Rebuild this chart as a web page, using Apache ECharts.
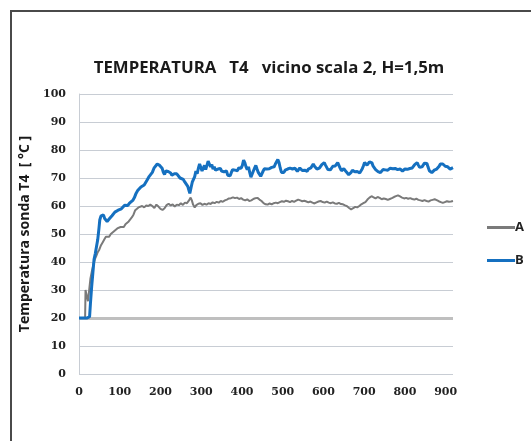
<!DOCTYPE html>
<html>
<head>
<meta charset="utf-8">
<script src="https://cdn.jsdelivr.net/npm/echarts@6/dist/echarts.min.js"></script>
<style>
  html, body { margin: 0; padding: 0; background: #ffffff; }
  #chart { width: 531px; height: 441px; }
</style>
</head>
<body>
<div id="chart"></div>
<script>
// Probe T4 temperature readings, [time, °C]
const seriesA = [
  [0,20],[10,20],[15,20],[16,30],[19,28],[22,26],[25,30],[28,34],[32,37],[36,39.5],[39,41],[42,42],[46,43.5],[50,44.5],
  [54,46],[58,47],[62,48],[66,49],[70,49.5],[74,49],[78,50],[82,50.5],[86,51],[90,51],[94,52],[98,51.5],[102,52.5],
  [106,53],[110,52.5],[114,53.5],[118,53.5],[122,54.5],[126,55],[130,56],[134,57],[138,58.5],[142,59],[146,59.5],
  [150,59.2],[155,60],[160,59.5],[165,60.2],[170,60],[175,60.5],[180,60],[185,59.3],[190,60.5],[195,59.8],[200,59],
  [205,58.6],[210,59.2],[215,60.3],[220,60.8],[225,60.2],[230,60.6],[235,59.8],[240,60.5],[245,60.3],[250,61],
  [255,60.4],[260,61.2],[265,61],[270,62],[274,63],[277,62],[280,60.5],[284,59.5],[288,60.3],[293,60.8],[298,61],
  [303,60.4],[308,60.8],[313,60.5],[318,61],[323,60.7],[328,61.3],[333,61],[338,61.5],[343,61.2],[348,61.8],
  [353,61.5],[358,62],[363,62.3],[368,62.7],[373,62.8],[378,63.1],[383,62.8],[388,63],[393,62.5],[398,62.8],
  [403,62.3],[408,62],[413,62.4],[418,61.8],[423,62],[428,62.5],[433,62.8],[438,62.9],[443,62.3],[448,61.8],
  [453,61],[458,60.6],[463,60.5],[468,60.9],[473,60.6],[478,61],[483,61.2],[488,61],[493,61.4],[498,61.7],
  [503,61.5],[508,61.9],[513,61.7],[518,61.4],[523,61.8],[528,61.5],[533,61.9],[538,62.3],[543,62],[548,61.7],
  [553,61.9],[558,61.6],[563,61.3],[568,61.6],[573,61.2],[578,60.9],[583,61.3],[588,61.6],[593,61.8],[598,61.4],
  [603,61.2],[608,61.6],[613,61.2],[618,61],[623,61.3],[628,60.9],[633,60.8],[638,61.1],[643,60.7],[648,60.6],
  [653,60.2],[658,59.9],[663,59.3],[668,58.8],[673,59.2],[678,59.7],[683,59.5],[688,60],[693,60.6],[698,61],
  [703,61.4],[708,62.3],[713,63],[718,63.5],[723,63.1],[728,62.7],[733,63.2],[738,62.9],[743,62.4],[748,62.7],
  [753,62.5],[758,62.2],[763,62.5],[768,62.8],[773,63.2],[778,63.5],[783,63.8],[788,63.4],[793,63],[798,62.7],
  [803,62.9],[808,62.6],[813,62.8],[818,62.5],[823,62.3],[828,62.6],[833,62.2],[838,62],[843,61.8],[848,62.1],
  [853,61.8],[858,61.6],[863,62],[868,62.2],[873,62.4],[878,62.1],[883,61.7],[888,61.4],[893,61.1],[898,61.4],
  [903,61.7],[908,61.5],[913,61.6],[918,61.8]
];

const seriesB = [
  [0,20],[10,20],[20,20],[26,20.5],[28,25],[31,31],[34,36],[37,41],[40,43],[43,45.5],[46,48],[49,52],[51,55],
  [54,56.5],[57,57],[60,56.8],[63,55.5],[66,55],[69,54.5],[72,54.6],[75,55.5],[78,56],[81,56.5],[84,57],[88,57.8],
  [92,58],[96,58.5],[100,59.2],[104,59],[108,59.6],[112,60.3],[116,60],[120,60.2],[124,61],[128,61.5],[132,62],
  [136,63],[140,64.5],[144,65.5],[148,66],[152,66.8],[156,67.3],[160,67.5],[164,68.5],[168,69.5],[172,70.5],
  [176,71],[180,72],[184,73.5],[188,74],[192,75],[195,75.5],[198,74.5],[201,74.8],[204,73.5],[207,72],[210,71.2],
  [213,72.5],[216,71.8],[219,72.3],[222,73],[225,71.8],[228,71],[231,70.5],[234,71.5],[237,70.8],[240,71.5],
  [244,71],[248,70],[252,70.5],[256,69.5],[260,68.5],[264,68],[267,67],[270,65.5],[272,64.5],[275,66.5],
  [278,68.5],[281,69.5],[284,70.5],[287,72.5],[290,71.5],[293,73.5],[296,75],[299,73.8],[302,72.5],[305,72.8],
  [308,74.5],[311,73],[314,74.5],[317,76],[320,75],[323,74],[326,74.8],[329,73.2],[332,74],[335,72.8],[338,73.5],
  [341,73.2],[344,73.9],[347,73.4],[350,72.5],[353,73],[356,72.2],[359,71.8],[362,72.5],[365,71],[368,70.6],
  [371,70.8],[374,72],[377,73],[380,73.4],[383,72.8],[386,73.2],[389,72.6],[392,73.6],[395,74],[398,73.5],
  [401,74.5],[404,76.4],[407,75.5],[410,74],[413,73],[416,74],[419,72],[422,70.3],[425,71],[428,72.5],[431,73.5],
  [434,74.5],[437,73.2],[440,72],[443,71.5],[446,70.6],[449,71.2],[452,72.5],[455,73.3],[458,72.8],[461,73.2],
  [464,72.5],[467,73.3],[470,74],[473,73.8],[476,74.5],[479,74],[482,75],[485,75.8],[488,76.6],[491,75.5],
  [494,73.5],[497,72],[500,71.3],[503,72],[506,72.8],[509,72.5],[512,73.2],[515,73],[518,73.5],[521,72.8],
  [524,73.2],[527,72.6],[530,73.5],[533,72.9],[536,72.4],[539,73],[542,73.6],[545,73.1],[548,72.7],[551,73.3],
  [554,72.8],[557,73],[560,72.4],[563,73.2],[566,72.8],[569,73.6],[572,74.2],[575,75],[578,74.2],[581,73.6],
  [584,73.2],[587,72.8],[590,73.5],[593,74],[596,74.8],[599,75.2],[602,75.5],[605,74.6],[608,73.8],[611,73],
  [614,72.6],[617,72.9],[620,73.5],[623,74.2],[626,74.8],[629,74.3],[632,75],[635,75.5],[638,74.8],[641,73.5],
  [644,72.6],[647,72.8],[650,73.3],[653,73],[656,72.2],[659,71.6],[662,71.2],[665,71.3],[668,72],[671,72.8],
  [674,72.5],[677,72.2],[680,71.8],[683,72.3],[686,72],[689,71.8],[692,72.4],[695,73.2],[698,74.3],[701,75.5],
  [704,75.1],[707,74.6],[710,75.2],[713,75.8],[716,76],[719,75.4],[722,74.2],[725,73.5],[728,73],[731,72.6],
  [734,72.3],[737,72],[740,71.9],[743,72.4],[746,73],[749,72.6],[752,72.9],[755,73.2],[758,72.8],[761,73.1],
  [764,73.5],[767,73],[770,73.3],[773,73.8],[776,73.4],[779,73.6],[782,73],[785,72.8],[788,73.2],[791,72.7],
  [794,72.5],[797,72.8],[800,73.2],[803,72.9],[806,73.1],[809,73],[812,73.4],[815,73],[818,73.6],[821,74.2],
  [824,74.8],[827,75],[830,75.5],[833,74.6],[836,73.8],[839,73.6],[842,74],[845,74.6],[848,75.3],[851,75.8],
  [854,75.2],[857,73.8],[860,72.6],[863,72],[866,71.9],[869,72.4],[872,72.8],[875,73],[878,73.2],[881,73.6],
  [884,74.2],[887,75],[890,75.5],[893,75],[896,74.4],[899,74.2],[902,74.5],[905,74],[908,73.5],[911,73.2],
  [914,73.6],[918,73.7]
];

const seriesNames = ['A', 'B'];
const referenceLevel = 20;   // ambient starting temperature

const chart = echarts.init(document.getElementById('chart'), null, { renderer: 'canvas' });

const tickFont = {
  fontFamily: 'DejaVu Serif',
  fontWeight: 'bold',
  fontSize: 11,
  color: '#222'
};

chart.setOption({
  animation: false,
  backgroundColor: '#ffffff',
  title: {
    text: 'TEMPERATURA   T4   vicino scala 2, H=1,5m',
    left: 264,
    top: 55,
    textAlign: 'center',
    textStyle: {
      fontFamily: 'Open Sans',
      fontWeight: 'bold',
      fontSize: 16.8,
      color: '#1a1a1a'
    }
  },
  graphic: [{
    type: 'rect',
    shape: { x: 11, y: 11, width: 560, height: 470 },
    style: { fill: 'none', stroke: '#4a4a4a', lineWidth: 2 },
    silent: true
  }],
  legend: {
    orient: 'vertical',
    left: 482,
    top: 216,
    icon: 'rect',
    itemWidth: 28,
    itemHeight: 3,
    itemGap: 20,
    data: seriesNames,
    textStyle: {
      fontFamily: 'Open Sans',
      fontWeight: 'bold',
      fontSize: 13,
      color: '#222',
      padding: [0, 0, 0, -5]
    }
  },
  grid: {
    left: 79,
    right: 78,
    top: 94,
    height: 280,
    containLabel: false
  },
  xAxis: {
    type: 'value',
    min: 0,
    max: 918,
    interval: 100,
    axisLine: { show: false },
    axisTick: { show: false },
    splitLine: { show: false },
    axisLabel: Object.assign({
      margin: 13,
      showMaxLabel: false,
      formatter: v => (v % 100 === 0 ? String(v) : '')
    }, tickFont)
  },
  yAxis: {
    type: 'value',
    min: 0,
    max: 100,
    interval: 10,
    name: 'Temperatura sonda T4  [ °C ]',
    nameLocation: 'middle',
    nameGap: 42,
    nameRotate: 90,
    nameTextStyle: {
      fontFamily: 'Open Sans',
      fontWeight: 'bold',
      fontSize: 14,
      color: '#1a1a1a'
    },
    axisLine: { show: true, lineStyle: { color: '#c8cdd4', width: 1 } },
    axisTick: { show: false },
    splitLine: { show: true, lineStyle: { color: '#c8cdd4', width: 1 } },
    axisLabel: Object.assign({ margin: 13 }, tickFont)
  },
  series: [
    {
      name: seriesNames[0],
      type: 'line',
      data: seriesA,
      symbol: 'none',
      lineStyle: { color: '#7a7a7a', width: 2 },
      itemStyle: { color: '#7a7a7a' },
      z: 3,
      markLine: {
        silent: true,
        symbol: 'none',
        label: { show: false },
        lineStyle: { color: '#bfbfbf', width: 3, type: 'solid' },
        data: [{ yAxis: referenceLevel }],
        z: 1
      }
    },
    {
      name: seriesNames[1],
      type: 'line',
      data: seriesB,
      symbol: 'none',
      lineStyle: { color: '#1570c0', width: 3 },
      itemStyle: { color: '#1570c0' },
      z: 4
    }
  ]
});
</script>
</body>
</html>
